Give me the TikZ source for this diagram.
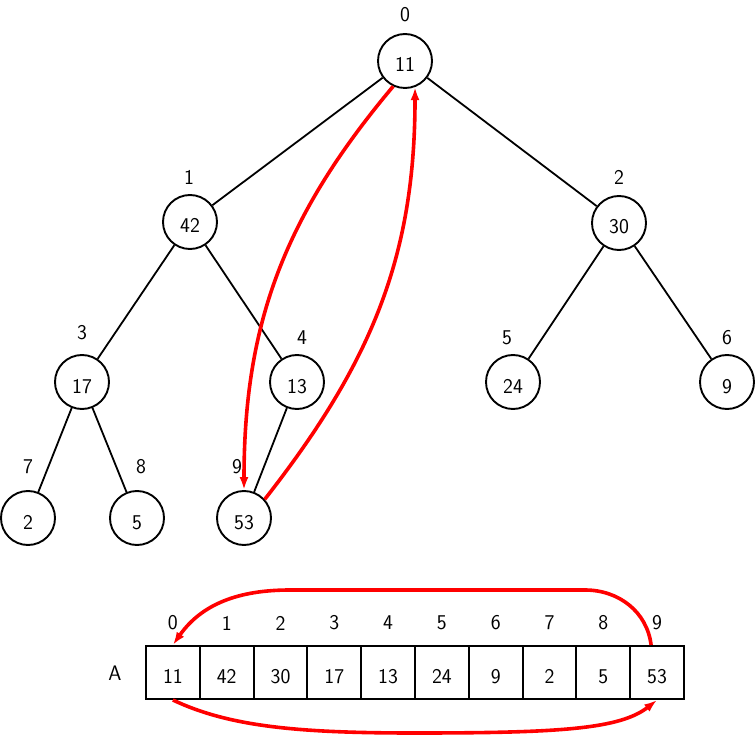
\documentclass[tikz,border=0pt]{standalone}
\usetikzlibrary{arrows.meta}
\begin{document}
\begin{tikzpicture}[x=1pt,y=1pt,
  font=\sffamily\fontsize{21}{25}\selectfont,
  vertex/.style={circle, draw, line width=1.9pt, minimum size=54pt, inner sep=0pt, text height=22pt, text depth=0pt},
  idx/.style={inner sep=0pt},
  edge/.style={line width=1.8pt},
  swaparrow/.style={draw=red, line width=3.6pt, -{Latex[length=13pt,width=9pt]}},
  cell/.style={draw, rectangle, line width=2pt, minimum width=53.8pt, minimum height=53pt, inner sep=0pt, text height=22pt, text depth=0pt}]
\useasboundingbox (0,0) rectangle (755,-735);
% tree nodes
\node[vertex] (n0) at (405,-61) {11};
\node[vertex] (n1) at (190,-222) {42};
\node[vertex] (n2) at (619,-223) {30};
\node[vertex] (n3) at (82,-382) {17};
\node[vertex] (n4) at (297,-382) {13};
\node[vertex] (n5) at (513,-382) {24};
\node[vertex] (n6) at (727,-382) {9};
\node[vertex] (n7) at (28,-518) {2};
\node[vertex] (n8) at (137,-518) {5};
\node[vertex] (n9) at (244,-518) {53};
% index labels
\node[idx] (l0) at (405,-15) {0};
\node[idx] (l1) at (189,-177) {1};
\node[idx] (l2) at (619,-177) {2};
\node[idx] (l3) at (82,-333) {3};
\node[idx] (l4) at (302,-338) {4};
\node[idx] (l5) at (507,-338) {5};
\node[idx] (l6) at (727,-338) {6};
\node[idx] (l7) at (28,-467) {7};
\node[idx] (l8) at (141,-467) {8};
\node[idx] (l9) at (237,-467) {9};
% edges
\draw[edge] (n0) -- (n1);
\draw[edge] (n0) -- (n2);
\draw[edge] (n1) -- (n3);
\draw[edge] (n1) -- (n4);
\draw[edge] (n2) -- (n5);
\draw[edge] (n2) -- (n6);
\draw[edge] (n3) -- (n7);
\draw[edge] (n3) -- (n8);
\draw[edge] (n4) -- (n9);
% array
\node[idx] (arrA) at (115,-673) {A};
\foreach \v [count=\i from 0] in {11,42,30,17,13,24,9,2,5,53} {
  \node[cell] (c\i) at ({172.9+53.8*\i},-672.5) {\v};
  \node[idx] (a\i) at ({172.9+53.8*\i},-623) {\i};
}
% swap arrows in tree
\draw[swaparrow] (n0.245) to[out=230,in=90] (n9.north);
\draw[swaparrow] (n9.42) to[out=52,in=-90] (n0.291);
% swap arrows in array
\coordinate (tr) at (585,-590);
\coordinate (tl) at (290,-590);
\coordinate (bm) at (415,-733);
\draw[swaparrow] ([xshift=-6pt]c9.north) to[out=97,in=0] (tr) -- (tl) to[out=180,in=55] (c0.north);
\draw[swaparrow] (c0.south) .. controls (230,-727) and (300,-733) .. (bm) .. controls (560,-733) and (620,-729) .. (c9.south);
\end{tikzpicture}
\end{document}
